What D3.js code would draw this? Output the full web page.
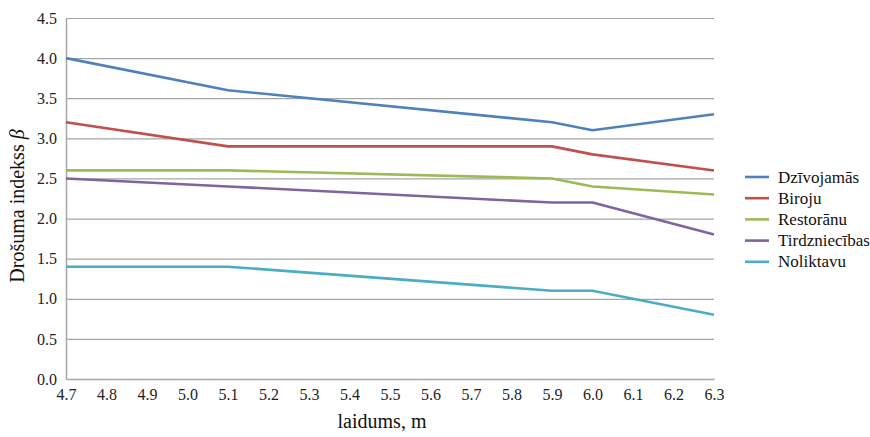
<!DOCTYPE html>
<html><head><meta charset="utf-8">
<script src="https://cdn.jsdelivr.net/npm/d3@7"></script>
<style>body{margin:0;background:#fff}svg{display:block}svg text{font-family:"Liberation Serif","Times New Roman",serif !important}</style>
</head><body>
<svg id="c" width="870" height="437"></svg>
<script>
const xValues = [4.7, 5.1, 5.9, 6.0, 6.3];
const seriesNames = ["Dzīvojamās", "Biroju", "Restorānu", "Tirdzniecības", "Noliktavu"];
const dzivojamas = [4.0, 3.6, 3.2, 3.1, 3.3];
const biroju = [3.2, 2.9, 2.9, 2.8, 2.6];
const restoranu = [2.6, 2.6, 2.5, 2.4, 2.3];
const tirdzniecibas = [2.5, 2.4, 2.2, 2.2, 1.8];
const noliktavu = [1.4, 1.4, 1.1, 1.1, 0.8];
const xTicks = [4.7,4.8,4.9,5.0,5.1,5.2,5.3,5.4,5.5,5.6,5.7,5.8,5.9,6.0,6.1,6.2,6.3];
const yTicks = [0,0.5,1,1.5,2,2.5,3,3.5,4,4.5];
const colors = ["#4F81BD","#C0504D","#9BBB59","#8064A2","#4BACC6"];
const allSeries = [dzivojamas, biroju, restoranu, tirdzniecibas, noliktavu];

const svg = d3.select("#c");
const L=66, R=714, T=18, B=379;
const x = d3.scaleLinear().domain([4.7,6.3]).range([L,R]);
const y = d3.scaleLinear().domain([0,4.5]).range([B,T]);

// gridlines
svg.append("g").selectAll("line").data(yTicks.filter(d=>d>0)).join("line")
  .attr("x1",L).attr("x2",R).attr("y1",d=>y(d)+0.5).attr("y2",d=>y(d)+0.5)
  .attr("stroke","#a6a6a6").attr("stroke-width",1.2);

// y axis
const ya = svg.append("g").attr("transform",`translate(${L},0)`)
  .call(d3.axisLeft(y).tickValues(yTicks).tickFormat(d3.format(".1f")).tickSize(0).tickPadding(9));
ya.select(".domain").attr("stroke","#a6a6a6").attr("stroke-width",1.5);
ya.selectAll("text").attr("font-size",16).attr("fill","#222");

// x axis
const xa = svg.append("g").attr("transform",`translate(0,${B})`)
  .call(d3.axisBottom(x).tickValues(xTicks).tickFormat(d3.format(".1f")).tickSize(0).tickPadding(10));
xa.select(".domain").attr("stroke","#a6a6a6").attr("stroke-width",1.5);
xa.selectAll("text").attr("font-size",16).attr("fill","#222");

// lines
const line = d3.line().x((d,i)=>x(xValues[i])).y(d=>y(d));
allSeries.forEach((s,k)=>{
  svg.append("path").datum(s).attr("d",line).attr("fill","none")
    .attr("stroke",colors[k]).attr("stroke-width",2.6).attr("stroke-linejoin","round");
});

// axis titles
svg.append("text").attr("x",382).attr("y",428).attr("text-anchor","middle")
  .attr("font-size",20).attr("fill","#111").text("laidums, m");
const yt = svg.append("text").attr("transform","translate(24,206) rotate(-90)").attr("text-anchor","middle")
  .attr("font-size",20).attr("fill","#111");
yt.append("tspan").text("Drošuma indekss ");
yt.append("tspan").attr("font-style","italic").text("β");

// legend
const lg = svg.append("g");
seriesNames.forEach((n,i)=>{
  const yy = 177 + i*21.2;
  lg.append("line").attr("x1",745).attr("x2",769).attr("y1",yy).attr("y2",yy)
    .attr("stroke",colors[i]).attr("stroke-width",2.6);
  lg.append("text").attr("x",778).attr("y",yy+5.5).attr("font-size",17).attr("fill","#111").text(n);
});
</script>
</body></html>
